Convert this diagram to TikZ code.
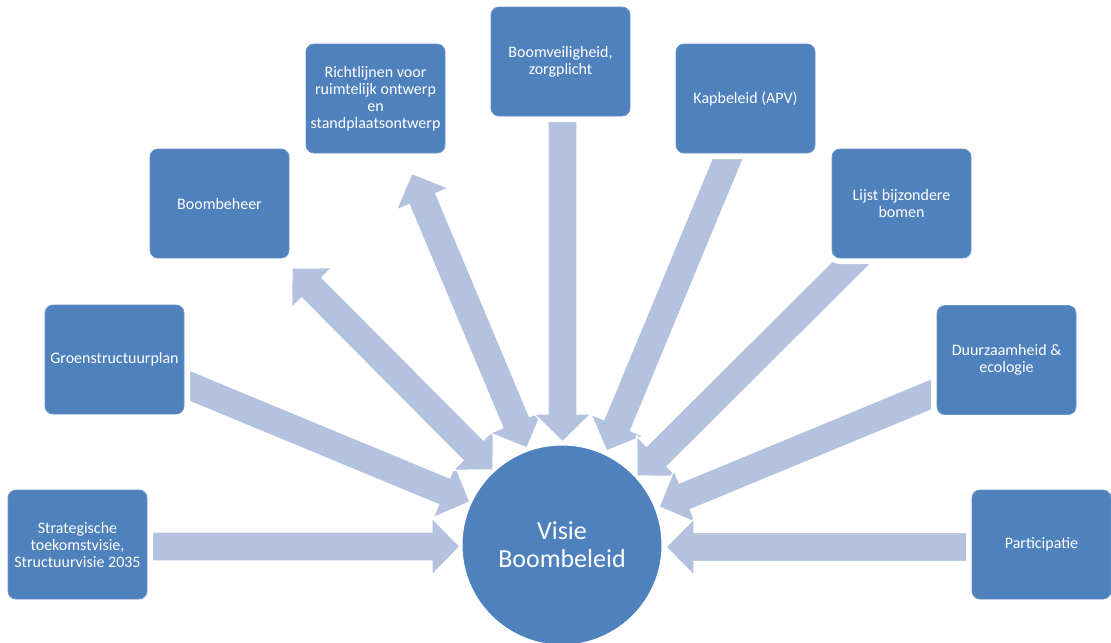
\documentclass[tikz,border=0pt]{standalone}
\usepackage{fontspec}
\setmainfont{Carlito}
\usetikzlibrary{calc}
\definecolor{boxblue}{RGB}{79,129,189}
\definecolor{arrowblue}{RGB}{179,194,222}
\tikzset{
 box/.style={rectangle, rounded corners=6pt, fill=boxblue, draw=boxblue!85!white, line width=0.6pt,
   preaction={draw=white, line width=9pt}, minimum width=104.25pt, minimum height=81.75pt,
   text=white, align=center, font=\fontsize{12}{12.75}\selectfont, inner sep=2pt},
 hub/.style={circle, fill=boxblue, draw=white, line width=0.75pt, minimum size=150pt,
   text=white, align=center, font=\fontsize{19.5}{21}\selectfont},
 blockarrow/.style={fill=arrowblue, draw=white, line width=1pt, line join=miter}
}
\newcommand{\singlearrow}[2]{%
 \path ($(#2)!21pt!(#1)$) coordinate (sbase);
 \draw[blockarrow] ($(#1)!10.875pt!90:(#2)$) -- ($(sbase)!10.875pt!90:(#2)$)
   -- ($(sbase)!21.375pt!90:(#2)$) -- (#2) -- ($(sbase)!21.375pt!-90:(#2)$)
   -- ($(sbase)!10.875pt!-90:(#2)$) -- ($(#1)!10.875pt!-90:(#2)$) -- cycle;
}
\newcommand{\doublearrow}[2]{%
 \path ($(#1)!21pt!(#2)$) coordinate (dbaseA) ($(#2)!21pt!(#1)$) coordinate (dbaseB);
 \draw[blockarrow] (#1) -- ($(dbaseA)!21.375pt!90:(#2)$) -- ($(dbaseA)!10.875pt!90:(#2)$)
   -- ($(dbaseB)!10.875pt!-90:(#1)$) -- ($(dbaseB)!21.375pt!-90:(#1)$) -- (#2)
   -- ($(dbaseB)!21.375pt!90:(#1)$) -- ($(dbaseB)!10.875pt!90:(#1)$)
   -- ($(dbaseA)!10.875pt!-90:(#2)$) -- ($(dbaseA)!21.375pt!-90:(#2)$) -- cycle;
}
\begin{document}
\begin{tikzpicture}[x=0.75pt, y=-0.75pt]
\useasboundingbox (0,0) rectangle (1111,643);
\clip (0,0) rectangle (1111,643);
% arrow end points
\coordinate (t1) at (140,546.5);  \coordinate (p1) at (460,546.5);
\coordinate (t2) at (170,377.7);  \coordinate (p2) at (470,502);
\coordinate (t3) at (292,268);    \coordinate (p3) at (493,470);
\coordinate (t4) at (411.7,173.3);\coordinate (p4) at (527,448);
\coordinate (t5) at (562.5,100);  \coordinate (p5) at (562.5,442);
\coordinate (t6) at (735.4,140);  \coordinate (p6) at (606.5,451);
\coordinate (t7) at (864,250);    \coordinate (p7) at (637,476);
\coordinate (t8) at (945,388.7);  \coordinate (p8) at (659,507);
\coordinate (t9) at (985,547);    \coordinate (p9) at (666,547);
% arrows
\singlearrow{t1}{p1}
\singlearrow{t2}{p2}
\doublearrow{t3}{p3}
\doublearrow{t4}{p4}
\singlearrow{t5}{p5}
\singlearrow{t6}{p6}
\singlearrow{t7}{p7}
\singlearrow{t8}{p8}
\singlearrow{t9}{p9}
% boxes
\node[box] (b1) at (77.5,544.5) {Strategische\\toekomstvisie,\\Structuurvisie 2035};
\node[box] (b2) at (114.5,359.5) {Groenstructuurplan};
\node[box] (b3) at (219.5,203.5) {Boombeheer};
\node[box] (b4) at (375.5,98.5) {Richtlijnen voor\\ruimtelijk ontwerp\\en\\standplaatsontwerp};
\node[box] (b5) at (560.5,61.5) {Boomveiligheid,\\zorgplicht};
\node[box] (b6) at (745.5,98.5) {Kapbeleid (APV)};
\node[box] (b7) at (901.5,203.5) {Lijst bijzondere\\bomen};
\node[box] (b8) at (1006.5,360) {Duurzaamheid \&\\ecologie};
\node[box] (b9) at (1041.5,544.5) {Participatie};
% hub
\node[hub] (c) at (562,545) {Visie\\Boombeleid};
\end{tikzpicture}
\end{document}
